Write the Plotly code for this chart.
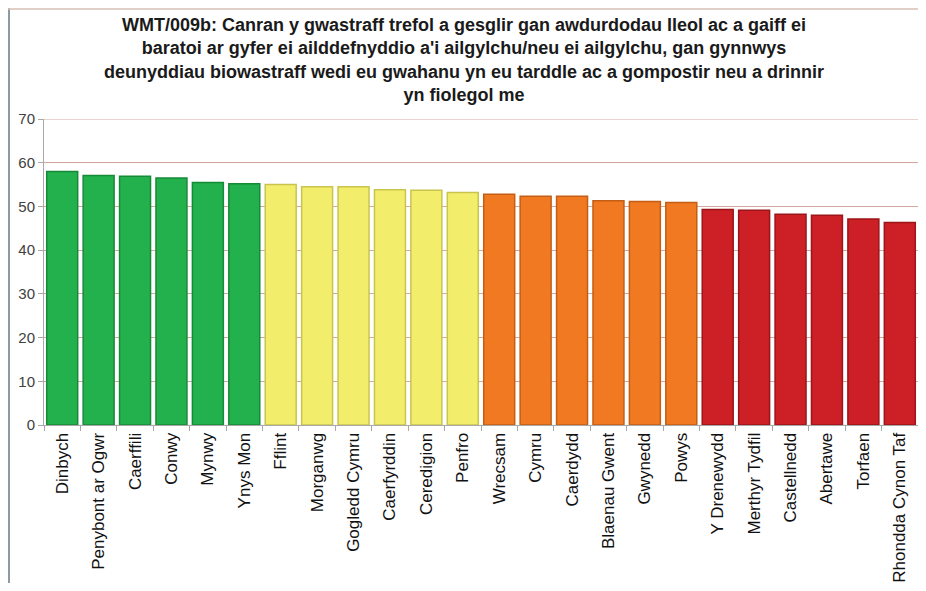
import plotly.graph_objects as go

categories = ["Dinbych", "Penybont ar Ogwr", "Caerffili", "Conwy", "Mynwy", "Ynys Mon",
              "Fflint", "Morganwg", "Gogledd Cymru", "Caerfyrddin", "Ceredigion", "Penfro",
              "Wrecsam", "Cymru", "Caerdydd", "Blaenau Gwent", "Gwynedd", "Powys",
              "Y Drenewydd", "Merthyr Tydfil", "Castellnedd", "Abertawe", "Torfaen",
              "Rhondda Cynon Taf"]
values = [58.0, 57.1, 56.9, 56.5, 55.5, 55.2,
          55.0, 54.5, 54.5, 53.8, 53.7, 53.2,
          52.8, 52.3, 52.3, 51.3, 51.1, 50.9,
          49.3, 49.1, 48.2, 48.0, 47.1, 46.3]
groups = ["g"] * 6 + ["y"] * 6 + ["o"] * 6 + ["r"] * 6
y_ticks = [0, 10, 20, 30, 40, 50, 60, 70]

fill = {"g": "#22B14C", "y": "#F2EE6C", "o": "#F07922", "r": "#CC1F26"}
edge = {"g": "#178A38", "y": "#C9C44E", "o": "#C45E14", "r": "#9C1519"}

title = ("WMT/009b: Canran y gwastraff trefol a gesglir gan awdurdodau lleol ac a gaiff ei<br>"
         "baratoi ar gyfer ei ailddefnyddio a'i ailgylchu/neu ei ailgylchu, gan gynnwys<br>"
         "deunyddiau biowastraff wedi eu gwahanu yn eu tarddle ac a gompostir neu a drinnir<br>"
         "yn fiolegol me")

fig = go.Figure(go.Bar(
    x=categories, y=values,
    marker=dict(color=[fill[g] for g in groups],
                line=dict(color=[edge[g] for g in groups], width=1.5)),
    hoverinfo="x+y",
))

# page body has an 8px margin; figure sized to fit the window
W, H = 926 - 16, 591 - 16
L, R, T, B = 36, 0, 111, 158
pw = W - L - R
ph = H - T - B
grid_col = "#D3A89E"

fig.update_layout(
    width=W, height=H,
    margin=dict(l=L, r=R, t=T, b=B),
    paper_bgcolor="white", plot_bgcolor="white",
    bargap=0.15,
    showlegend=False,
    font=dict(family="Liberation Sans, Arial, sans-serif", color="#000000"),
    xaxis=dict(tickangle=-90, tickfont=dict(size=17, color="#111"),
               showline=True, linecolor="#A9A9A9", ticks="outside", ticklen=5,
               tickcolor="#A9A9A9", tickson="boundaries", showgrid=False,
               automargin=False),
    yaxis=dict(range=[0, 70], tickvals=y_ticks, tickfont=dict(size=15, color="#404040"),
               showline=True, linecolor="#A9A9A9", ticks="outside", ticklen=5,
               tickcolor="#A9A9A9", showgrid=True, gridcolor=grid_col, gridwidth=1,
               zeroline=False, automargin=False),
    annotations=[dict(text="<b>" + title + "</b>", xref="paper", yref="paper",
                      x=(455.5 - L) / pw, y=1 + (T - 51.5) / ph,
                      xanchor="center", yanchor="middle",
                      showarrow=False, font=dict(size=18, color="#1a1a1a"))],
    shapes=[dict(type="line", xref="paper", yref="paper",
                 x0=-(L - 1) / pw, x1=-(L - 1) / pw,
                 y0=-B / ph, y1=1 + T / ph,
                 line=dict(color="#8A9C9E", width=2), layer="below"),
            dict(type="line", xref="paper", yref="paper",
                 x0=-L / pw, x1=1,
                 y0=1 + (T - 1) / ph, y1=1 + (T - 1) / ph,
                 line=dict(color="#D9BFB6", width=1.5), layer="below"),
            dict(type="line", xref="paper", yref="y", x0=0, x1=1,
                 y0=y_ticks[-1], y1=y_ticks[-1],
                 line=dict(color=grid_col, width=1), layer="below")],
)

fig.write_html("out.html")
